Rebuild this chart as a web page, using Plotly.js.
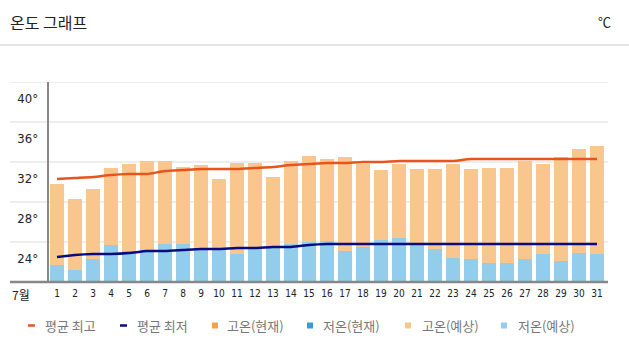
<!DOCTYPE html>
<html>
<head>
<meta charset="utf-8">
<script src="https://cdn.plot.ly/plotly-3.0.1.min.js"></script>
<style>html,body{margin:0;padding:0;background:#fff}#chart{width:629px;height:356px}</style>
</head>
<body>
<div id="chart"></div>
<script>
// ---- data ----
var days = [1,2,3,4,5,6,7,8,9,10,11,12,13,14,15,16,17,18,19,20,21,22,23,24,25,26,27,28,29,30,31];
var highForecast = [29.8,28.3,29.3,31.4,31.8,32.1,32.1,31.5,31.7,30.3,31.9,31.9,30.5,32.1,32.6,32.3,32.5,31.8,31.2,31.8,31.3,31.3,31.8,31.3,31.4,31.4,32.1,31.8,32.5,33.3,33.6];
var lowForecast = [21.7,21.2,22.3,23.7,23.1,23.2,23.8,23.8,23.4,23.4,22.8,23.5,23.5,23.8,24.0,24.1,23.1,23.5,24.2,24.4,23.9,23.3,22.4,22.3,21.9,21.9,22.3,22.8,22.1,22.9,22.8];
var avgHigh = [30.3,30.4,30.5,30.7,30.8,30.8,31.1,31.2,31.3,31.3,31.3,31.4,31.5,31.7,31.8,31.9,31.9,32.0,32.0,32.1,32.1,32.1,32.1,32.3,32.3,32.3,32.3,32.3,32.3,32.3,32.3];
var avgLow = [22.5,22.7,22.8,22.8,22.9,23.1,23.1,23.2,23.3,23.3,23.4,23.4,23.5,23.5,23.7,23.8,23.8,23.8,23.8,23.8,23.8,23.8,23.8,23.8,23.8,23.8,23.8,23.8,23.8,23.8,23.8];
var highNow = [];
var lowNow = [];
var yTicks = [24,28,32,36,40];
var yTickText = ["24°","28°","32°","36°","40°"];
var seriesNames = ["평균 최고","평균 최저","고온(현재)","저온(현재)","고온(예상)","저온(예상)"];
var titleText = "온도 그래프";
var unitText = "℃";
var monthText = "7월";

// ---- styles ----
var C_AVGHI = "#e8541c", C_AVGLO = "#0b0b80";
var C_HINOW = "#f5a04a", C_LONOW = "#3a9ad6";
var C_HIFC = "#f9c78e", C_LOFC = "#92cdec";
var legendColors = [C_AVGHI, C_AVGLO, C_HINOW, C_LONOW, C_HIFC, C_LOFC];
var legendKinds = ["dash","dash","sq","sq","sq","sq"];
var L = 48, R = 606, T = 82, B = 282;
function px(x){ return (x - L) / (R - L); }
function py(y){ return (B - y) / (B - T); }
var CJK = "'Noto Sans CJK KR', 'Noto Sans', sans-serif";
var NUM = "'Liberation Sans Narrow', 'DejaVu Sans Condensed', 'Noto Sans CJK KR', sans-serif";

var traces = [
  {type:"bar", x:days, y:highForecast, name:seriesNames[4], marker:{color:C_HIFC}, width:0.78, hoverinfo:"skip"},
  {type:"bar", x:days, y:lowForecast, name:seriesNames[5], marker:{color:C_LOFC}, width:0.78, hoverinfo:"skip"},
  {type:"bar", x:days.slice(0, highNow.length), y:highNow, name:seriesNames[2], marker:{color:C_HINOW}, width:0.78},
  {type:"bar", x:days.slice(0, lowNow.length), y:lowNow, name:seriesNames[3], marker:{color:C_LONOW}, width:0.78},
  {type:"scatter", mode:"lines", x:days, y:avgHigh, name:seriesNames[0], line:{color:C_AVGHI, width:2.5, shape:"spline", smoothing:0.6}},
  {type:"scatter", mode:"lines", x:days, y:avgLow, name:seriesNames[1], line:{color:C_AVGLO, width:2.5, shape:"spline", smoothing:0.6}}
];

var shapes = [];
yTicks.forEach(function(v){
  shapes.push({type:"line", layer:"below", xref:"paper", yref:"y", x0:px(10), x1:px(608), y0:v, y1:v, line:{color:"#eeeeee", width:2}});
});
// separator under the title
shapes.push({type:"line", xref:"paper", yref:"paper", x0:px(0), x1:px(629), y0:py(45), y1:py(45), line:{color:"#dddddd", width:1.5}});
// axis lines
shapes.push({type:"line", xref:"paper", yref:"paper", x0:px(10), x1:px(608), y0:0, y1:0, line:{color:"#888888", width:2.5}});
shapes.push({type:"line", xref:"paper", yref:"paper", x0:0, x1:0, y0:0, y1:1, line:{color:"#888888", width:2}});

var annotations = [
  {xref:"paper", yref:"paper", x:px(8), y:py(22), xanchor:"left", yanchor:"middle", text:titleText, showarrow:false, font:{family:CJK, size:16, color:"#222"}},
  {xref:"paper", yref:"paper", x:px(613), y:py(21), xanchor:"right", yanchor:"middle", text:unitText, showarrow:false, font:{family:CJK, size:13, color:"#222"}},
  {xref:"paper", yref:"paper", x:px(21), y:py(294), xanchor:"center", yanchor:"middle", text:monthText, showarrow:false, font:{family:CJK, size:12, color:"#222"}}
];

// custom legend
var iconX = [28,120,212,307,405,501];
var textX = [43,135,225,321,420,516];
var LY = 325.5;
seriesNames.forEach(function(n, i){
  if (legendKinds[i] === "dash") {
    shapes.push({type:"line", xref:"paper", yref:"paper", x0:px(iconX[i]), x1:px(iconX[i]+7), y0:py(LY), y1:py(LY), line:{color:legendColors[i], width:2.5}});
  } else {
    shapes.push({type:"rect", xref:"paper", yref:"paper", x0:px(iconX[i]), x1:px(iconX[i]+6), y0:py(LY-3), y1:py(LY+3), line:{width:0}, fillcolor:legendColors[i]});
  }
  annotations.push({xref:"paper", yref:"paper", x:px(textX[i]), y:py(LY), xanchor:"left", yanchor:"middle", text:n, showarrow:false, font:{family:CJK, size:13, color:"#777"}});
});

var layout = {
  width:629, height:356,
  margin:{l:L, r:629-R, t:T, b:356-B, pad:0},
  paper_bgcolor:"#fff", plot_bgcolor:"#fff",
  barmode:"overlay",
  showlegend:false,
  xaxis:{range:[0.5,31.5], tickmode:"array", tickvals:days, ticktext:days.map(String), showgrid:false, zeroline:false, showline:false, ticks:"", ticklabelstandoff:4, tickfont:{family:NUM, size:10, color:"#222"}, fixedrange:true},
  yaxis:{range:[20,40], tickmode:"array", tickvals:yTicks, ticktext:yTickText, showgrid:false, zeroline:false, showline:false, ticks:"", ticklabelshift:16, ticklabelstandoff:9, tickfont:{family:NUM, size:13, color:"#222"}, fixedrange:true},
  shapes:shapes,
  annotations:annotations
};
Plotly.newPlot("chart", traces, layout, {displayModeBar:false, staticPlot:true});
</script>
</body>
</html>
